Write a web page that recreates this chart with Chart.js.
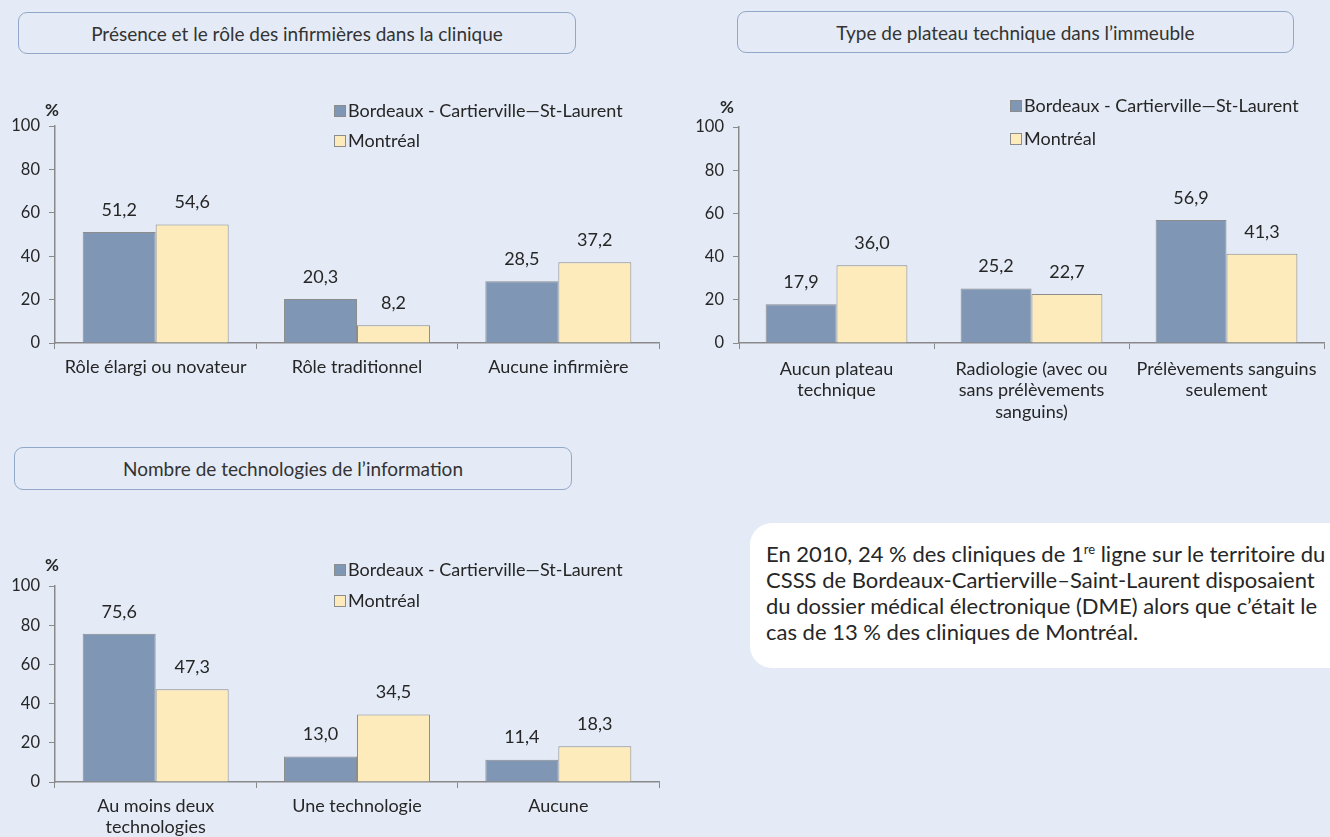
<!DOCTYPE html>
<html lang="fr">
<head>
<meta charset="utf-8">
<script src="https://cdn.jsdelivr.net/npm/chart.js@4/dist/chart.umd.min.js"></script>
<style>
    body {
        margin: 0;
        width: 1330px;
        height: 837px;
        overflow: hidden;
        position: relative;
        background: #e4ebf6;
        font-family: Lato, sans-serif;
        color: #262626;
    }
    .titre {
        position: absolute;
        box-sizing: border-box;
        border: 1.5px solid #93a8c8;
        border-radius: 9px;
        display: flex;
        align-items: center;
        justify-content: center;
        font-size: 19px;
        color: #333;
    }
    canvas {
        position: absolute;
    }
    .note {
        position: absolute;
        left: 750px;
        top: 523px;
        width: 600px;
        height: 145px;
        box-sizing: border-box;
        background: #ffffff;
        border-radius: 22px;
        padding: 18px 0 0 16px;
        font-size: 22px;
        line-height: 26px;
        white-space: nowrap;
    }
    .note sup {
        font-size: 13px;
        line-height: 0;
    }
</style>
</head>
<body>

<div class="titre" style="left:18px; top:12px; width:558px; height:42px;">Présence et le rôle des infirmières dans la clinique</div>
<div class="titre" style="left:737px; top:11px; width:557px; height:42px;">Type de plateau technique dans l’immeuble</div>
<div class="titre" style="left:14px; top:447px; width:558px; height:43px;">Nombre de technologies de l’information</div>

<canvas id="graphInfirmieres" width="680" height="333" style="left:0; top:60px;"></canvas>
<canvas id="graphPlateau" width="650" height="373" style="left:680px; top:60px;"></canvas>
<canvas id="graphTechno" width="680" height="337" style="left:0; top:500px;"></canvas>

<div class="note">En 2010, 24 % des cliniques de 1<sup>re</sup> ligne sur le territoire du<br>CSSS de Bordeaux-Cartierville–Saint-Laurent disposaient<br>du dossier médical électronique (DME) alors que c’était le<br>cas de 13 % des cliniques de Montréal.</div>

<script>
// Séries
const series = ['Bordeaux - Cartierville—St-Laurent', 'Montréal'];
const yTicks = [0, 20, 40, 60, 80, 100];

// Présence et rôle des infirmières
const infirmCategories = ['Rôle élargi ou novateur', 'Rôle traditionnel', 'Aucune infirmière'];
const infirmBCSL = [51.2, 20.3, 28.5];
const infirmMtl = [54.6, 8.2, 37.2];

// Type de plateau technique
const plateauCategories = [['Aucun plateau', 'technique'], ['Radiologie (avec ou', 'sans prélèvements', 'sanguins)'], ['Prélèvements sanguins', 'seulement']];
const plateauBCSL = [17.9, 25.2, 56.9];
const plateauMtl = [36.0, 22.7, 41.3];

// Nombre de technologies de l'information
const technoCategories = [['Au moins deux', 'technologies'], 'Une technologie', 'Aucune'];
const technoBCSL = [75.6, 13.0, 11.4];
const technoMtl = [47.3, 34.5, 18.3];

const bleu = '#7f96b5';
const jaune = '#fdebbb';
const contour = '#8c8c8c';
const gris = '#8a8a8a';
const texte = '#262626';

// Etiquettes de valeurs, symbole % et légende dessinés sur le canvas
const etiquettes = {
    id: 'etiquettes',
    afterDatasetsDraw(chart, args, opts) {
        const ctx = chart.ctx;
        const zone = chart.chartArea;
        ctx.save();
        ctx.fillStyle = texte;
        ctx.font = '18px Lato';
        ctx.textAlign = 'center';
        ctx.textBaseline = 'middle';
        chart.data.datasets.forEach((ds, i) => {
            chart.getDatasetMeta(i).data.forEach((barre, j) => {
                ctx.fillText(ds.data[j].toFixed(1).replace('.', ','), barre.x, barre.y - 22);
            });
        });

        ctx.font = 'bold 17px Lato';
        ctx.fillText('%', zone.left + opts.pctX, zone.top + opts.pctY);

        ctx.textAlign = 'left';
        ctx.font = '18px Lato';
        chart.data.datasets.forEach((ds, i) => {
            const y = zone.top + opts.legendeY[i];
            ctx.fillStyle = ds.backgroundColor;
            ctx.fillRect(opts.legendeX, y - 6, 12, 12);
            ctx.strokeStyle = contour;
            ctx.lineWidth = 1;
            ctx.strokeRect(opts.legendeX + 0.5, y - 5.5, 11, 11);
            ctx.fillStyle = texte;
            ctx.fillText(ds.label, opts.legendeX + 14, y);
        });
        ctx.restore();
    }
};

function creeGraphique(id, categories, valeursBCSL, valeursMtl, reglages) {
    return new Chart(document.getElementById(id), {
        type: 'bar',
        data: {
            labels: categories,
            datasets: [
                { label: series[0], data: valeursBCSL, backgroundColor: bleu, borderColor: contour, borderWidth: 1 },
                { label: series[1], data: valeursMtl, backgroundColor: jaune, borderColor: contour, borderWidth: 1 }
            ]
        },
        options: {
            responsive: false,
            animation: false,
            layout: { padding: { top: reglages.haut, right: reglages.droite, left: 0, bottom: 0 } },
            datasets: { bar: { categoryPercentage: reglages.largeurBarres, barPercentage: 1 } },
            plugins: {
                legend: { display: false },
                tooltip: { enabled: false },
                etiquettes: reglages
            },
            scales: {
                x: {
                    grid: { offset: true, drawOnChartArea: false, tickLength: 6, color: gris },
                    border: { color: gris, width: 1.5 },
                    ticks: { color: texte, font: { family: 'Lato', size: 18, lineHeight: reglages.interligne }, padding: reglages.ecartX, maxRotation: 0, autoSkip: false },
                    afterFit(axe) { axe.height = reglages.hautAxeX; }
                },
                y: {
                    min: 0,
                    max: 100,
                    afterBuildTicks(axe) { axe.ticks = yTicks.map(v => ({ value: v })); },
                    grid: { drawOnChartArea: false, tickLength: 6, color: gris },
                    border: { color: gris, width: 1.5 },
                    ticks: { color: texte, font: { family: 'Lato', size: 16.5 }, padding: 9 },
                    afterFit(axe) { axe.width = reglages.largeurAxeY; }
                }
            }
        },
        plugins: [etiquettes]
    });
}

creeGraphique('graphInfirmieres', infirmCategories, infirmBCSL, infirmMtl, {
    haut: 66, droite: 21, largeurAxeY: 55, hautAxeX: 50, largeurBarres: 0.725, interligne: 1.3, ecartX: 6,
    pctX: -3, pctY: -15, legendeX: 334, legendeY: [-15, 15]
});
creeGraphique('graphPlateau', plateauCategories, plateauBCSL, plateauMtl, {
    haut: 67, droite: 6, largeurAxeY: 59, hautAxeX: 90, largeurBarres: 0.727, interligne: 1.2, ecartX: 9,
    pctX: -12, pctY: -19, legendeX: 330, legendeY: [-21, 12]
});
creeGraphique('graphTechno', technoCategories, technoBCSL, technoMtl, {
    haut: 86, droite: 21, largeurAxeY: 55, hautAxeX: 55, largeurBarres: 0.725, interligne: 1.15, ecartX: 8,
    pctX: -3, pctY: -20, legendeX: 334, legendeY: [-16, 15]
});
</script>
</body>
</html>
